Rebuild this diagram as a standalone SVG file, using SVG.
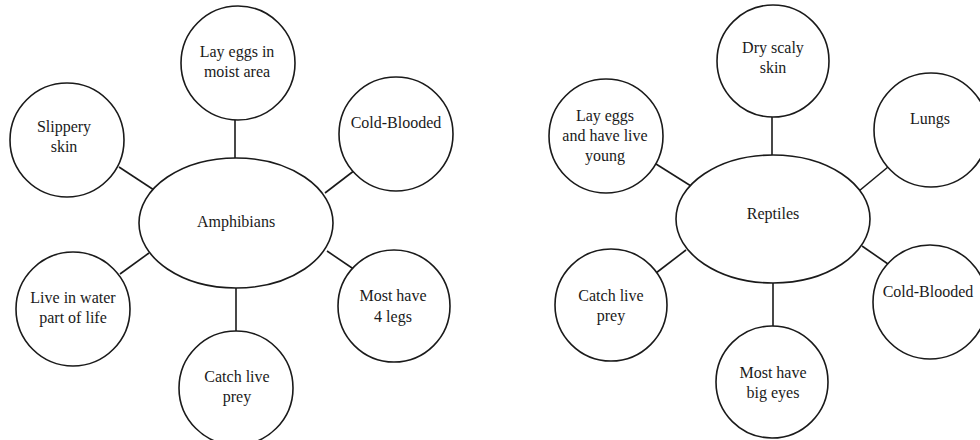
<svg xmlns="http://www.w3.org/2000/svg" width="980" height="440" viewBox="0 0 980 440">
<style>
.n{fill:#fff;stroke:#1a1a1a;stroke-width:1.6}
.c line{stroke:#1a1a1a;stroke-width:1.6}
text{font-family:"Liberation Serif","Times New Roman",serif;font-size:16px;fill:#1a1a1a;text-anchor:middle}
</style>
<rect width="980" height="440" fill="#fff"/>
<g id="connectors" class="c">
<line x1="235" y1="120" x2="235" y2="158"/>
<line x1="119" y1="167" x2="154" y2="190"/>
<line x1="325" y1="193" x2="355" y2="170"/>
<line x1="149" y1="253" x2="120" y2="274"/>
<line x1="236" y1="288" x2="236" y2="331"/>
<line x1="327" y1="251" x2="355" y2="270"/>
<line x1="772" y1="117" x2="772" y2="155"/>
<line x1="656" y1="164" x2="691" y2="186"/>
<line x1="859" y1="191" x2="888" y2="167"/>
<line x1="686" y1="250" x2="656" y2="273"/>
<line x1="773" y1="283" x2="773" y2="326"/>
<line x1="862" y1="246" x2="888" y2="264"/>
</g>
<g id="amphibians"><ellipse class="n" cx="236" cy="223" rx="97" ry="65"/><text x="236" y="227">Amphibians</text></g>
<g id="a-lay-eggs"><circle class="n" cx="238" cy="63" r="57"/><text x="237" y="57">Lay eggs in</text><text x="237" y="77">moist area</text></g>
<g id="a-slippery"><circle class="n" cx="67" cy="140" r="57"/><text x="64" y="132">Slippery</text><text x="64" y="152">skin</text></g>
<g id="a-cold"><circle class="n" cx="396" cy="134" r="57"/><text x="396" y="128">Cold-Blooded</text></g>
<g id="a-water"><circle class="n" cx="73" cy="309" r="57"/><text x="73" y="303">Live in water</text><text x="73" y="323">part of life</text></g>
<g id="a-catch"><circle class="n" cx="236" cy="388" r="57"/><text x="237" y="382">Catch live</text><text x="237" y="402">prey</text></g>
<g id="a-legs"><circle class="n" cx="394" cy="306" r="56"/><text x="393" y="301">Most have</text><text x="393" y="322">4 legs</text></g>
<g id="reptiles"><ellipse class="n" cx="773" cy="219" rx="97" ry="64"/><text x="773" y="219">Reptiles</text></g>
<g id="r-dry"><circle class="n" cx="773" cy="61" r="56"/><text x="773" y="53">Dry scaly</text><text x="773" y="73">skin</text></g>
<g id="r-lay"><circle class="n" cx="606" cy="136" r="57"/><text x="605" y="121">Lay eggs</text><text x="605" y="141">and have live</text><text x="605" y="161">young</text></g>
<g id="r-lungs"><circle class="n" cx="931" cy="130" r="57"/><text x="930" y="124">Lungs</text></g>
<g id="r-catch"><circle class="n" cx="611" cy="305" r="56"/><text x="611" y="301">Catch live</text><text x="611" y="321">prey</text></g>
<g id="r-eyes"><circle class="n" cx="772" cy="382" r="56"/><text x="773" y="378">Most have</text><text x="773" y="398">big eyes</text></g>
<g id="r-cold"><circle class="n" cx="930" cy="302" r="57"/><text x="928" y="297">Cold-Blooded</text></g>
</svg>
